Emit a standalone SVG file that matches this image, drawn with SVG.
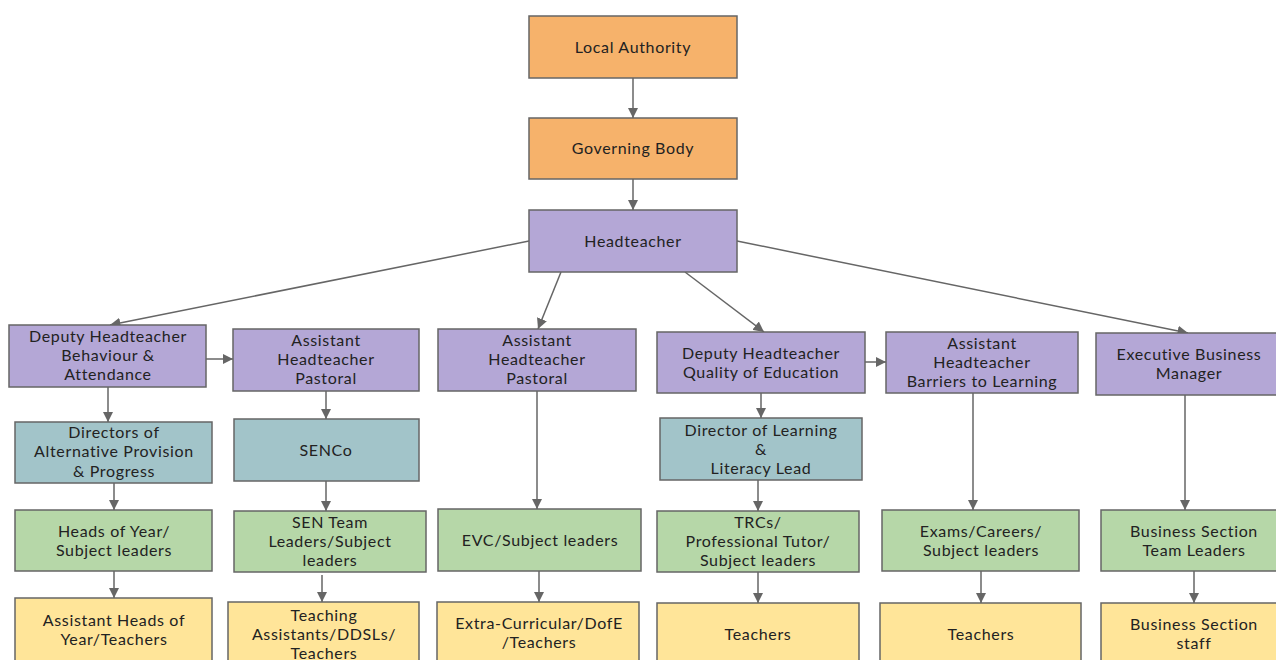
<svg xmlns="http://www.w3.org/2000/svg" width="1276" height="660" viewBox="0 0 1276 660">
<style>
.n rect{stroke:#666;stroke-width:1.5}
.o rect{fill:#f6b26b}.p rect{fill:#b4a7d6}.t rect{fill:#a2c4c9}.g rect{fill:#b6d7a8}.y rect{fill:#ffe599}
text{font-family:Lato,"Noto Sans",sans-serif;font-size:16px;letter-spacing:0.65px;fill:#222;text-anchor:middle}
.c line{stroke:#666;stroke-width:1.5;marker-end:url(#ah)}
</style>
<defs><marker id="ah" viewBox="0 0 10 10" refX="10" refY="5" markerWidth="7" markerHeight="7" orient="auto" markerUnits="strokeWidth"><path d="M0,0L10,5L0,10z" fill="#666"/></marker></defs>
<rect width="1276" height="660" fill="#fff"/>
<g class="c">
<line x1="633" y1="78" x2="633" y2="118"/>
<line x1="633" y1="179" x2="633" y2="210"/>
<line x1="529" y1="241" x2="110" y2="325"/>
<line x1="561" y1="272" x2="538" y2="329"/>
<line x1="685" y1="272" x2="764" y2="332"/>
<line x1="737" y1="241" x2="1188" y2="333"/>
<line x1="206" y1="359" x2="233" y2="359"/>
<line x1="865" y1="362" x2="886" y2="362"/>
<line x1="108" y1="387" x2="108" y2="422"/>
<line x1="114" y1="483" x2="114" y2="510"/>
<line x1="114" y1="571" x2="114" y2="598"/>
<line x1="326" y1="391" x2="326" y2="419"/>
<line x1="326" y1="481" x2="326" y2="511"/>
<line x1="322" y1="575" x2="322" y2="602"/>
<line x1="537" y1="391" x2="537" y2="509"/>
<line x1="539" y1="571" x2="539" y2="602"/>
<line x1="761" y1="393" x2="761" y2="418"/>
<line x1="758" y1="480" x2="758" y2="511"/>
<line x1="758" y1="572" x2="758" y2="603"/>
<line x1="973" y1="393" x2="973" y2="510"/>
<line x1="981" y1="571" x2="981" y2="603"/>
<line x1="1185" y1="395" x2="1185" y2="510"/>
<line x1="1194" y1="571" x2="1194" y2="603"/>
</g>
<g id="local-authority" class="n o"><rect x="529" y="16" width="208" height="62"/><text x="633" y="53">Local Authority</text></g>
<g id="governing-body" class="n o"><rect x="529" y="118" width="208" height="61"/><text x="633" y="154">Governing Body</text></g>
<g id="headteacher" class="n p"><rect x="529" y="210" width="208" height="62"/><text x="633" y="247">Headteacher</text></g>
<g id="dh-behaviour" class="n p"><rect x="9" y="325" width="197" height="62"/><text x="108" y="342">Deputy Headteacher</text><text x="108" y="361">Behaviour &amp;</text><text x="108" y="380">Attendance</text></g>
<g id="ah-pastoral-1" class="n p"><rect x="233" y="329" width="186" height="62"/><text x="326" y="346">Assistant</text><text x="326" y="365">Headteacher</text><text x="326" y="384">Pastoral</text></g>
<g id="ah-pastoral-2" class="n p"><rect x="438" y="329" width="198" height="62"/><text x="537" y="346">Assistant</text><text x="537" y="365">Headteacher</text><text x="537" y="384">Pastoral</text></g>
<g id="dh-quality" class="n p"><rect x="657" y="332" width="208" height="61"/><text x="761" y="359">Deputy Headteacher</text><text x="761" y="378">Quality of Education</text></g>
<g id="ah-barriers" class="n p"><rect x="886" y="332" width="192" height="61"/><text x="982" y="349">Assistant</text><text x="982" y="368">Headteacher</text><text x="982" y="387">Barriers to Learning</text></g>
<g id="exec-business" class="n p"><rect x="1096" y="333" width="186" height="62"/><text x="1189" y="360">Executive Business</text><text x="1189" y="379">Manager</text></g>
<g id="directors-ap" class="n t"><rect x="15" y="422" width="197" height="61"/><text x="114" y="438">Directors of</text><text x="114" y="457">Alternative Provision</text><text x="114" y="477">&amp; Progress</text></g>
<g id="senco" class="n t"><rect x="234" y="419" width="185" height="62"/><text x="326" y="456">SENCo</text></g>
<g id="director-learning" class="n t"><rect x="660" y="418" width="202" height="62"/><text x="761" y="436">Director of Learning</text><text x="761" y="455">&amp;</text><text x="761" y="474">Literacy Lead</text></g>
<g id="heads-of-year" class="n g"><rect x="15" y="510" width="197" height="61"/><text x="114" y="537">Heads of Year/</text><text x="114" y="556">Subject leaders</text></g>
<g id="sen-team" class="n g"><rect x="234" y="511" width="192" height="61"/><text x="330" y="528">SEN Team</text><text x="330" y="547">Leaders/Subject</text><text x="330" y="566">leaders</text></g>
<g id="evc" class="n g"><rect x="438" y="509" width="203" height="62"/><text x="540" y="546">EVC/Subject leaders</text></g>
<g id="trcs" class="n g"><rect x="657" y="511" width="202" height="61"/><text x="758" y="528">TRCs/</text><text x="758" y="547">Professional Tutor/</text><text x="758" y="566">Subject leaders</text></g>
<g id="exams" class="n g"><rect x="882" y="510" width="197" height="61"/><text x="981" y="537">Exams/Careers/</text><text x="981" y="556">Subject leaders</text></g>
<g id="business-tl" class="n g"><rect x="1101" y="510" width="186" height="61"/><text x="1194" y="537">Business Section</text><text x="1194" y="556">Team Leaders</text></g>
<g id="asst-heads-year" class="n y"><rect x="15" y="598" width="197" height="66"/><text x="114" y="626">Assistant Heads of</text><text x="114" y="645">Year/Teachers</text></g>
<g id="teaching-assistants" class="n y"><rect x="228" y="602" width="191" height="66"/><text x="324" y="621">Teaching</text><text x="324" y="640">Assistants/DDSLs/</text><text x="324" y="659">Teachers</text></g>
<g id="extra-curricular" class="n y"><rect x="437" y="602" width="202" height="66"/><text x="539" y="629">Extra-Curricular/DofE</text><text x="539" y="648">/Teachers</text></g>
<g id="teachers-1" class="n y"><rect x="657" y="603" width="202" height="66"/><text x="758" y="640">Teachers</text></g>
<g id="teachers-2" class="n y"><rect x="880" y="603" width="201" height="66"/><text x="981" y="640">Teachers</text></g>
<g id="business-staff" class="n y"><rect x="1101" y="603" width="186" height="66"/><text x="1194" y="630">Business Section</text><text x="1194" y="649">staff</text></g>
</svg>
